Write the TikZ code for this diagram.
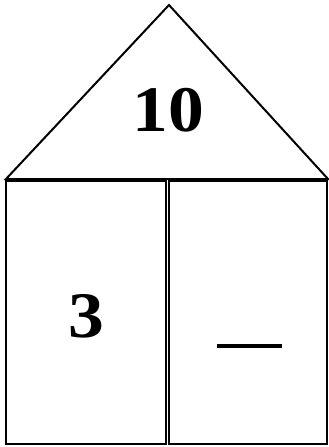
\documentclass[tikz,border=0pt]{standalone}
\usepackage{fontspec}
\setmainfont{Liberation Serif}
\newfontfamily\housefont[FakeStretch=1.1]{Liberation Serif}
\usepackage{tikz}
\usetikzlibrary{calc}

\tikzset{
  wall/.style={draw=black, line width=2pt},
  numeral/.style={font=\housefont\fontsize{65}{65}\selectfont\bfseries, inner sep=0pt}
}

\begin{document}
\begin{tikzpicture}[x=1pt, y=-1pt]
  \useasboundingbox (0,0) rectangle (329,447);
  % roof
  \draw[wall, line join=miter] (6,179) -- (169,5) -- (328,179) -- cycle;
  % two rooms
  \draw[wall] (6,181) rectangle (166,444);
  \draw[wall] (169,181) rectangle (327,444);
  % numbers
  \node[numeral] (total) at (168,110) {10};
  \node[numeral] (part) at (86,316) {3};
  \draw[line width=4pt] (217,346) -- (282,346);
\end{tikzpicture}
\end{document}
